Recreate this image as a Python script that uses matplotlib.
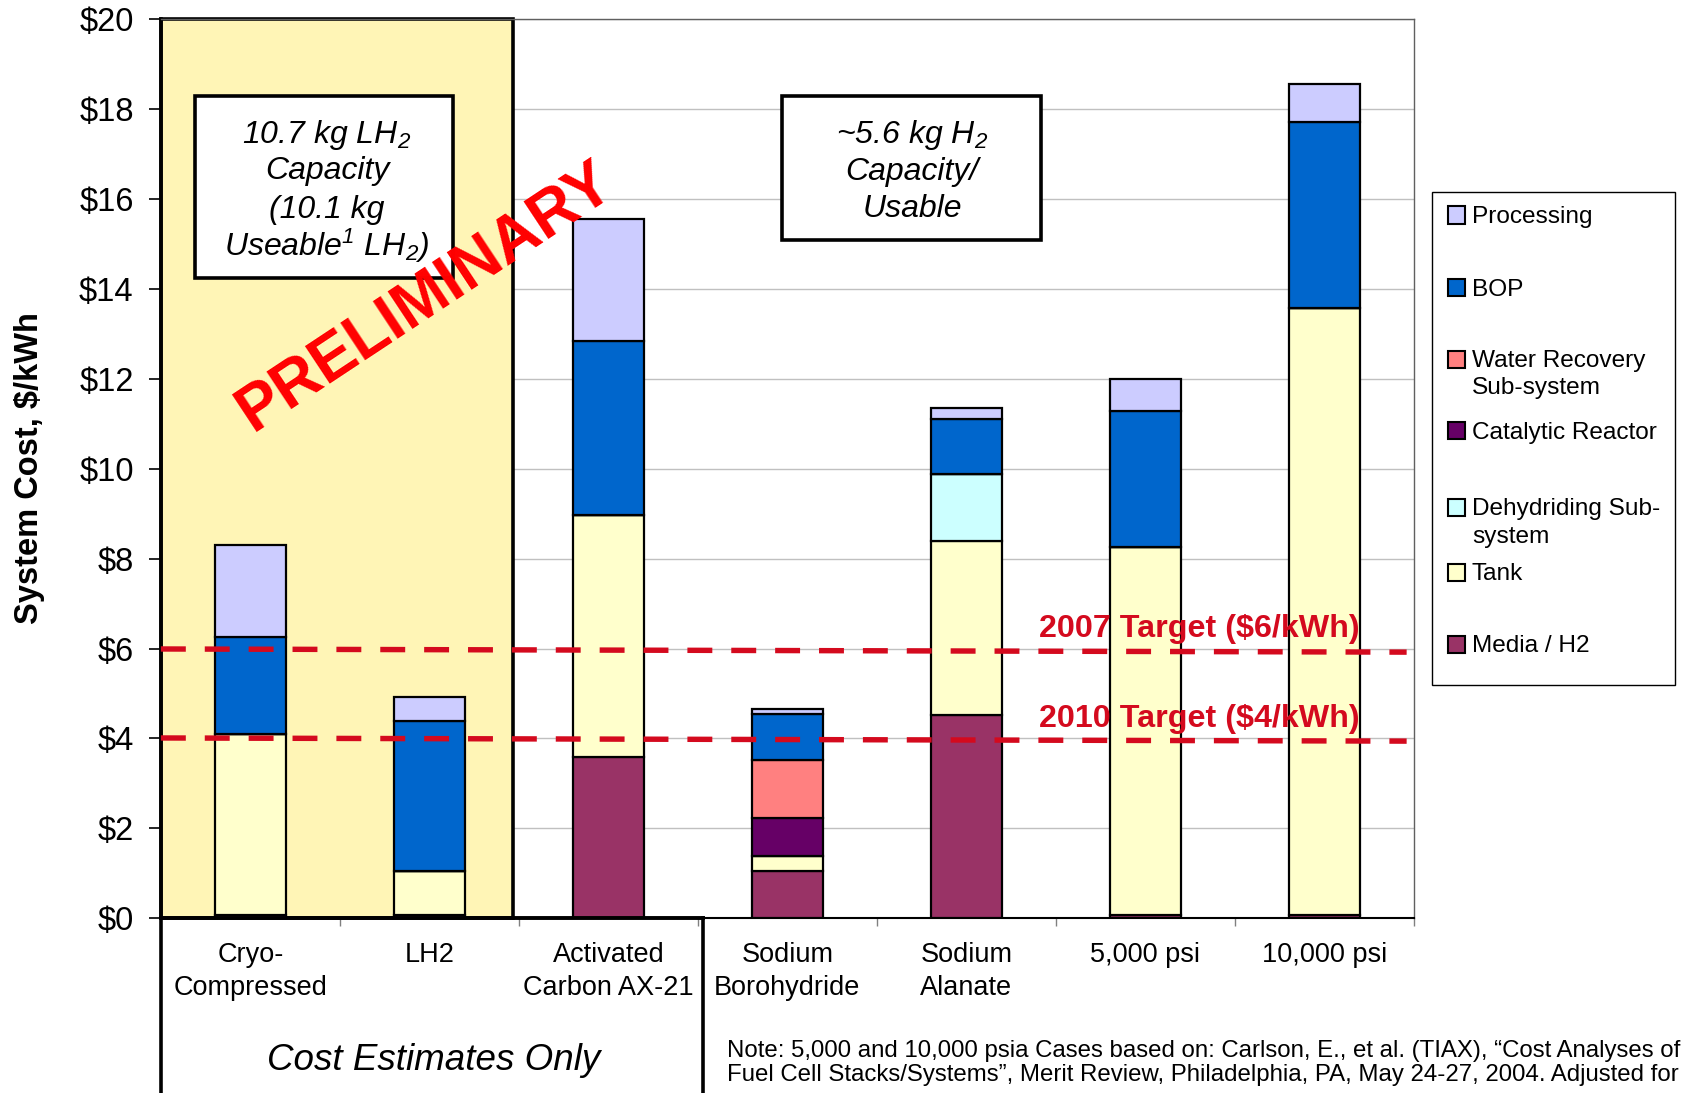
import numpy as np
import matplotlib
matplotlib.use("Agg")
import matplotlib.pyplot as plt
from matplotlib.patches import Rectangle

plt.rcParams['font.family'] = ['Liberation Sans', 'DejaVu Sans']
plt.rcParams['mathtext.fontset'] = 'custom'
plt.rcParams['mathtext.rm'] = 'Liberation Sans:italic'
plt.rcParams['mathtext.it'] = 'Liberation Sans:italic'

# data ($/kWh)
categories = ["Cryo-\nCompressed", "LH2", "Activated\nCarbon AX-21", "Sodium\nBorohydride",
              "Sodium\nAlanate", "5,000 psi", "10,000 psi"]
media = [0.08, 0.08, 3.58, 1.05, 4.53, 0.08, 0.08]
tank = [4.02, 0.97, 5.39, 0.34, 3.87, 8.18, 13.50]
dehydriding = [0, 0, 0, 0, 1.48, 0, 0]
catalytic = [0, 0, 0, 0.84, 0, 0, 0]
water = [0, 0, 0, 1.29, 0, 0, 0]
bop = [2.15, 3.34, 3.87, 1.02, 1.22, 3.03, 4.13]
processing = [2.05, 0.53, 2.72, 0.11, 0.26, 0.71, 0.86]

target_2007 = 6
target_2010 = 4
yticks = list(range(0, 21, 2))

stack = [("Media / H2", media, '#993366'),
         ("Tank", tank, '#FFFFCC'),
         ("Dehydriding Sub-\nsystem", dehydriding, '#CCFFFF'),
         ("Catalytic Reactor", catalytic, '#660066'),
         ("Water Recovery\nSub-system", water, '#FF8080'),
         ("BOP", bop, '#0066CC'),
         ("Processing", processing, '#CCCCFF')]

W, H = 1682, 1093
fig = plt.figure(figsize=(W / 100, H / 100), dpi=100)
ax = fig.add_axes([160.9 / W, 1 - 918.2 / H, (1413.8 - 160.9) / W, (918.2 - 19.3) / H])

def fx(x):
    return x / W

def fy(y):
    return 1 - y / H

red = '#D40A1E'
x = np.arange(len(categories))

# shaded LH2 region
ax.axvspan(-0.5, 1.465, facecolor='#FFF5B6', edgecolor='black', lw=2.6, zorder=1, clip_on=False)

bottom = np.zeros(len(categories))
for name, vals, col in stack:
    ax.bar(x, vals, 0.4, bottom=bottom, color=col, edgecolor='black', linewidth=1.6, zorder=3)
    bottom += np.array(vals)

# targets (slightly sloped like the original shapes)
ax.plot([-0.5, 6.46], [target_2007 - 0.01, target_2007 - 0.08], color=red, lw=3.9,
        dashes=(4.6, 3.5), zorder=4, clip_on=False)
ax.plot([-0.5, 6.46], [target_2010 + 0.01, target_2010 - 0.06], color=red, lw=3.9,
        dashes=(4.6, 3.5), zorder=4, clip_on=False)
ax.text(4.406, 6.26, "2007 Target ($6/kWh)", color=red, fontsize=23.2, weight='bold',
        va='baseline', ha='left', zorder=5)
ax.text(4.406, 4.26, "2010 Target ($4/kWh)", color=red, fontsize=23.2, weight='bold',
        va='baseline', ha='left', zorder=5)

ax.set_xlim(-0.5, 6.5)
ax.set_ylim(0, 20)
ax.set_yticks(yticks, [f"${v}" for v in yticks], fontsize=23.5)
ax.set_yticks(np.arange(0, 20.01, 0.4), minor=True)
ax.tick_params(axis='y', which='major', direction='out', length=8.6, width=1.2, pad=11)
ax.tick_params(axis='y', which='minor', direction='in', length=5.5, width=1)
ax.set_xticks(x, categories, fontsize=19.5, linespacing=1.35)
ax.set_xticks(np.arange(0.5, 6.6, 1.0), minor=True)
ax.tick_params(axis='x', which='major', length=0, pad=17)
ax.tick_params(axis='x', which='minor', direction='out', length=6, width=1, color='#808080')

ax.yaxis.grid(True, color='#C0C0C0', lw=1)
ax.set_axisbelow(True)
ax.spines['left'].set_linewidth(2.6)
ax.spines['bottom'].set_linewidth(1.5)
for s in ['top', 'right']:
    ax.spines[s].set_linewidth(1)
    ax.spines[s].set_color('#606060')

# box under the first three categories
ax.plot([-0.5, -0.5], [0, -5], color='black', lw=2.6, clip_on=False, zorder=5)
ax.plot([2.53, 2.53], [0, -5], color='black', lw=2.6, clip_on=False, zorder=5)
ax.plot([-0.5, 2.53], [0, 0], color='black', lw=2.8, clip_on=False, zorder=5)

fig.text(fx(30), fy(468), "System Cost, $/kWh", rotation=90, fontsize=23.5, weight='bold',
         ha='center', va='center')

# text boxes
fig.add_artist(Rectangle((fx(195), fy(278)), (453 - 195) / W, (278 - 96) / H,
                         transform=fig.transFigure, facecolor='white', edgecolor='black', lw=2.6))
box1 = [("10.7 kg LH$_2$", 143), ("Capacity", 179), ("(10.1 kg", 218), ("Useable$^1$ LH$_2$)", 256)]
for t, yb in box1:
    fig.text(fx(327), fy(yb), t, fontsize=23, style='italic', ha='center', va='baseline')

fig.add_artist(Rectangle((fx(782), fy(240)), (1041 - 782) / W, (240 - 96) / H,
                         transform=fig.transFigure, facecolor='white', edgecolor='black', lw=2.6))
box2 = [("~5.6 kg H$_2$", 143), ("Capacity/", 180), ("Usable", 217)]
for t, yb in box2:
    fig.text(fx(912), fy(yb), t, fontsize=23, style='italic', ha='center', va='baseline')

fig.text(fx(426), fy(297), "PRELIMINARY", color='#FF0000', fontsize=46, weight='bold',
         rotation=33.5, rotation_mode='anchor', ha='center', va='center', zorder=6)

# legend
fig.add_artist(Rectangle((fx(1432), fy(685)), (1675 - 1432) / W, (685 - 192) / H,
                         transform=fig.transFigure, facecolor='white', edgecolor='black', lw=1))
leg_y = {"Processing": 215, "BOP": 287, "Water Recovery\nSub-system": 359,
         "Catalytic Reactor": 431, "Dehydriding Sub-\nsystem": 507, "Tank": 572, "Media / H2": 644}
for name, vals, col in stack:
    yc = leg_y[name]
    fig.add_artist(Rectangle((fx(1448), fy(yc + 8.5)), 17 / W, 17 / H, transform=fig.transFigure,
                             facecolor=col, edgecolor='black', lw=1.5))
    for k, line in enumerate(name.split("\n")):
        fig.text(fx(1472), fy(yc + 8.5 + 27 * k), line, fontsize=17.6, ha='left', va='baseline')

fig.text(fx(434), fy(1060), "Cost Estimates Only", fontsize=26.5, style='italic',
         ha='center', va='center')
fig.text(fx(727), fy(1057),
         "Note: 5,000 and 10,000 psia Cases based on: Carlson, E., et al. (TIAX), \u201cCost Analyses of",
         fontsize=17.3, ha='left', va='baseline')
fig.text(fx(727), fy(1081),
         "Fuel Cell Stacks/Systems\u201d, Merit Review, Philadelphia, PA, May 24-27, 2004. Adjusted for",
         fontsize=17.3, ha='left', va='baseline')

fig.savefig("out.png", dpi=100)
